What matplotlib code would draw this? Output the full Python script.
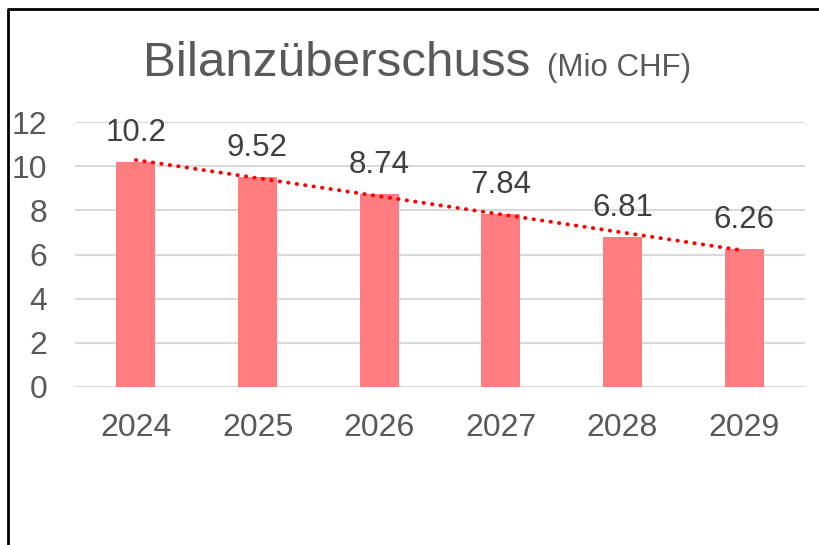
import numpy as np
import matplotlib.pyplot as plt
from matplotlib.lines import Line2D

years = ['2024', '2025', '2026', '2027', '2028', '2029']
values = [10.2, 9.52, 8.74, 7.84, 6.81, 6.26]
labels = ['10.2', '9.52', '8.74', '7.84', '6.81', '6.26']

plt.rcParams['font.family'] = ['Liberation Sans', 'DejaVu Sans']
grey = '#595959'

fig = plt.figure(figsize=(8.19, 5.45), dpi=100)
ax = fig.add_axes([75/819, 1-387/545, 730/819, 265/545])

x = np.arange(len(years))
ax.bar(x, values, width=0.32, color='#FF7C80', zorder=2)

# linear trend line
k, b = np.polyfit(x, values, 1)
ax.plot(x, k*x + b, color='#FF0000', lw=2.8, linestyle=(0, (0.1, 2.1)),
        dash_capstyle='round', zorder=3)

for xi, v, s in zip(x, values, labels):
    ax.annotate(s, (xi, v), xytext=(0, 10), textcoords='offset points',
                ha='center', va='bottom', fontsize=22.5, color='#404040')

ax.set_xlim(-0.5, len(years)-0.5)
ax.set_ylim(0, 12)
ax.set_yticks(range(0, 13, 2))
ax.set_xticks(x)
ax.set_xticklabels(years)
ax.tick_params(length=0, labelsize=23, colors=grey)
ax.tick_params(axis='y', pad=20)
ax.tick_params(axis='x', pad=19)
ax.grid(axis='y', color='#D9D9D9', lw=1.5, zorder=0)
for sp in ax.spines.values():
    sp.set_visible(False)

fig.text(143/819, 1-76/545, 'Bilanzüberschuss', fontsize=35.6, color=grey, va='baseline')
fig.text(547/819, 1-76/545, '(Mio CHF)', fontsize=22.5, color=grey, va='baseline')

# chart frame (left and top edges visible)
fig.add_artist(Line2D([8/819, 8/819, 1], [0, 1-9/545, 1-9/545],
                      transform=fig.transFigure, color='black', lw=2))

fig.savefig('out.png', dpi=100)
